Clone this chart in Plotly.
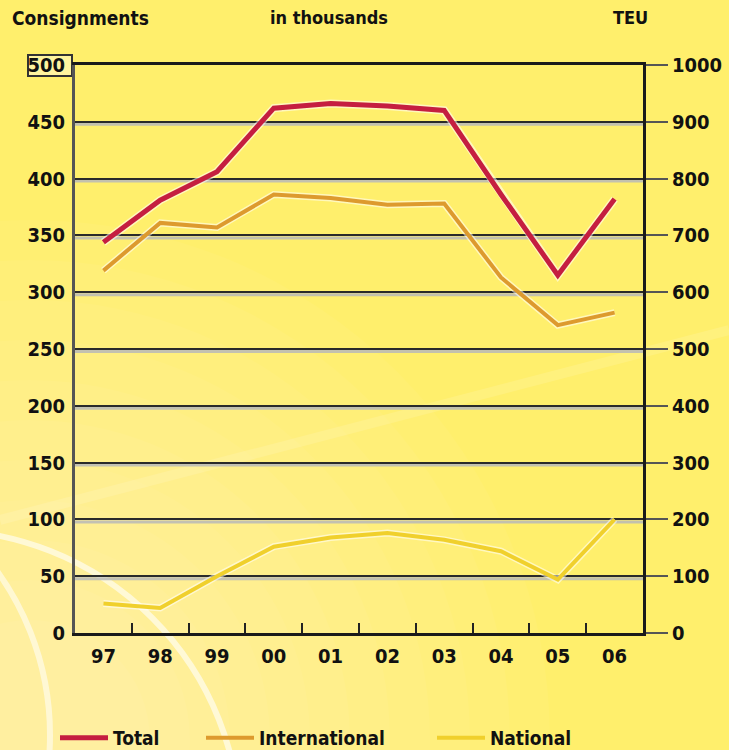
import plotly.graph_objects as go

years = ["97", "98", "99", "00", "01", "02", "03", "04", "05", "06"]
total = [344, 381, 406, 462, 466, 464, 460, 386, 315, 382]
international = [319, 361, 357, 386, 383, 377, 378, 313, 271, 282]
national = [26, 22, 50, 76, 84, 88, 82, 72, 47, 100]

left_ticks = [0, 50, 100, 150, 200, 250, 300, 350, 400, 450, 500]
right_ticks = [0, 100, 200, 300, 400, 500, 600, 700, 800, 900, 1000]

series_names = ["Total", "International", "National"]
series_colors = ["#C51E40", "#DD9A2E", "#F0D02C"]
series_widths = [5, 4, 4]

W, H = 729, 750
ML, MR, MT, MB = 75, 86, 65, 117
FONT = "DejaVu Sans Condensed, Liberation Sans Narrow, DejaVu Sans, sans-serif"


def tfont(size):
    return dict(family=FONT, size=size, color="#111111", weight="bold")


fig = go.Figure()

data = [total, international, national]
for i, (name, vals) in enumerate(zip(series_names, data)):
    fig.add_trace(go.Scatter(x=years, y=vals, mode="lines", showlegend=False,
                             hoverinfo="skip",
                             line=dict(color="rgba(255,255,255,0.55)", width=series_widths[i] + 3)))
    fig.add_trace(go.Scatter(x=years, y=vals, mode="lines", name=name,
                             legend=["legend", "legend2", "legend3"][i],
                             line=dict(color=series_colors[i], width=series_widths[i])))

# empty trace so the TEU axis on the right is drawn
fig.add_trace(go.Scatter(x=years, y=[None] * len(years), yaxis="y2", mode="lines",
                         showlegend=False, hoverinfo="skip"))


def px(xp):
    return (xp - ML) / (W - ML - MR)


def py(yp):
    return 1 - (yp - MT) / (H - MT - MB)


def circle(cx, cy, r, **kw):
    return dict(type="circle", xref="paper", yref="paper", layer="below",
                x0=px(cx - r), x1=px(cx + r), y0=py(cy + r), y1=py(cy - r), **kw)


shapes = []
for r in range(520, 100, -40):
    shapes.append(circle(30, 740, r, fillcolor="rgba(255,255,255,0.045)", line=dict(width=0)))
shapes.append(circle(-60, 830, 300, fillcolor="rgba(0,0,0,0)",
                     line=dict(color="rgba(255,255,255,0.6)", width=6)))
shapes.append(circle(-230, 735, 280, fillcolor="rgba(0,0,0,0)",
                     line=dict(color="rgba(255,255,255,0.55)", width=6)))
shapes.append(dict(type="line", xref="paper", yref="paper", layer="below",
                   x0=px(0), y0=py(520), x1=px(729), y1=py(330),
                   line=dict(color="rgba(255,255,255,0.12)", width=10)))
for v in left_ticks[1:-1]:
    shapes.append(dict(type="line", xref="paper", yref="y", layer="below",
                       x0=0, x1=1, y0=v - 2.2, y1=v - 2.2,
                       line=dict(color="rgba(185,185,185,0.85)", width=3)))
# boxed top label
shapes.append(dict(type="rect", xref="paper", yref="paper", layer="below",
                   x0=px(28), x1=px(72), y0=py(76), y1=py(55),
                   fillcolor="rgba(255,255,255,0.35)", line=dict(color="#333333", width=2)))

legend_common = dict(orientation="h", xref="container", yref="container",
                     xanchor="left", yanchor="middle", itemwidth=48,
                     bgcolor="rgba(0,0,0,0)", font=tfont(19))

fig.update_layout(
    width=W, height=H,
    margin=dict(l=ML, r=MR, t=MT, b=MB),
    paper_bgcolor="#FFEF6C",
    plot_bgcolor="rgba(0,0,0,0)",
    font=tfont(18),
    shapes=shapes,
    xaxis=dict(type="category", range=[-0.5, 9.5], showgrid=False, zeroline=False,
               showline=True, mirror=True, linecolor="#1a1a1a", linewidth=3,
               ticks="inside", tickson="boundaries", ticklen=10, tickwidth=2, tickcolor="#222222",
               tickfont=tfont(20), ticklabelstandoff=3, automargin=False),
    yaxis=dict(range=[0, 500], tickvals=left_ticks, ticktext=[str(v) for v in left_ticks],
               showgrid=True, gridcolor="#2a2a2a", gridwidth=2, zeroline=False,
               showline=True, linecolor="#555555", linewidth=3, ticks="",
               tickfont=tfont(20), ticklabelstandoff=3, automargin=False),
    yaxis2=dict(range=[0, 1000], tickvals=right_ticks, ticktext=[str(v) for v in right_ticks],
                overlaying="y", side="right", anchor="x", showgrid=False, zeroline=False,
                showline=True, linecolor="#1a1a1a", linewidth=3,
                ticks="outside", ticklen=22, tickwidth=2, tickcolor="#555555",
                tickfont=tfont(20), automargin=False),
    legend=dict(x=55 / W, y=1 - 738 / H, **legend_common),
    legend2=dict(x=201 / W, y=1 - 738 / H, **legend_common),
    legend3=dict(x=432 / W, y=1 - 738 / H, **legend_common),
    annotations=[
        dict(text="Consignments", xref="paper", yref="paper", x=px(10), y=py(18),
             xanchor="left", yanchor="middle", showarrow=False, font=tfont(19)),
        dict(text="in thousands", xref="paper", yref="paper", x=px(268), y=py(18),
             xanchor="left", yanchor="middle", showarrow=False, font=tfont(18)),
        dict(text="TEU", xref="paper", yref="paper", x=px(611), y=py(18),
             xanchor="left", yanchor="middle", showarrow=False, font=tfont(18)),
    ],
)

fig.write_html("out.html", config={"displayModeBar": False},
               post_script="document.body.style.margin='0';")
